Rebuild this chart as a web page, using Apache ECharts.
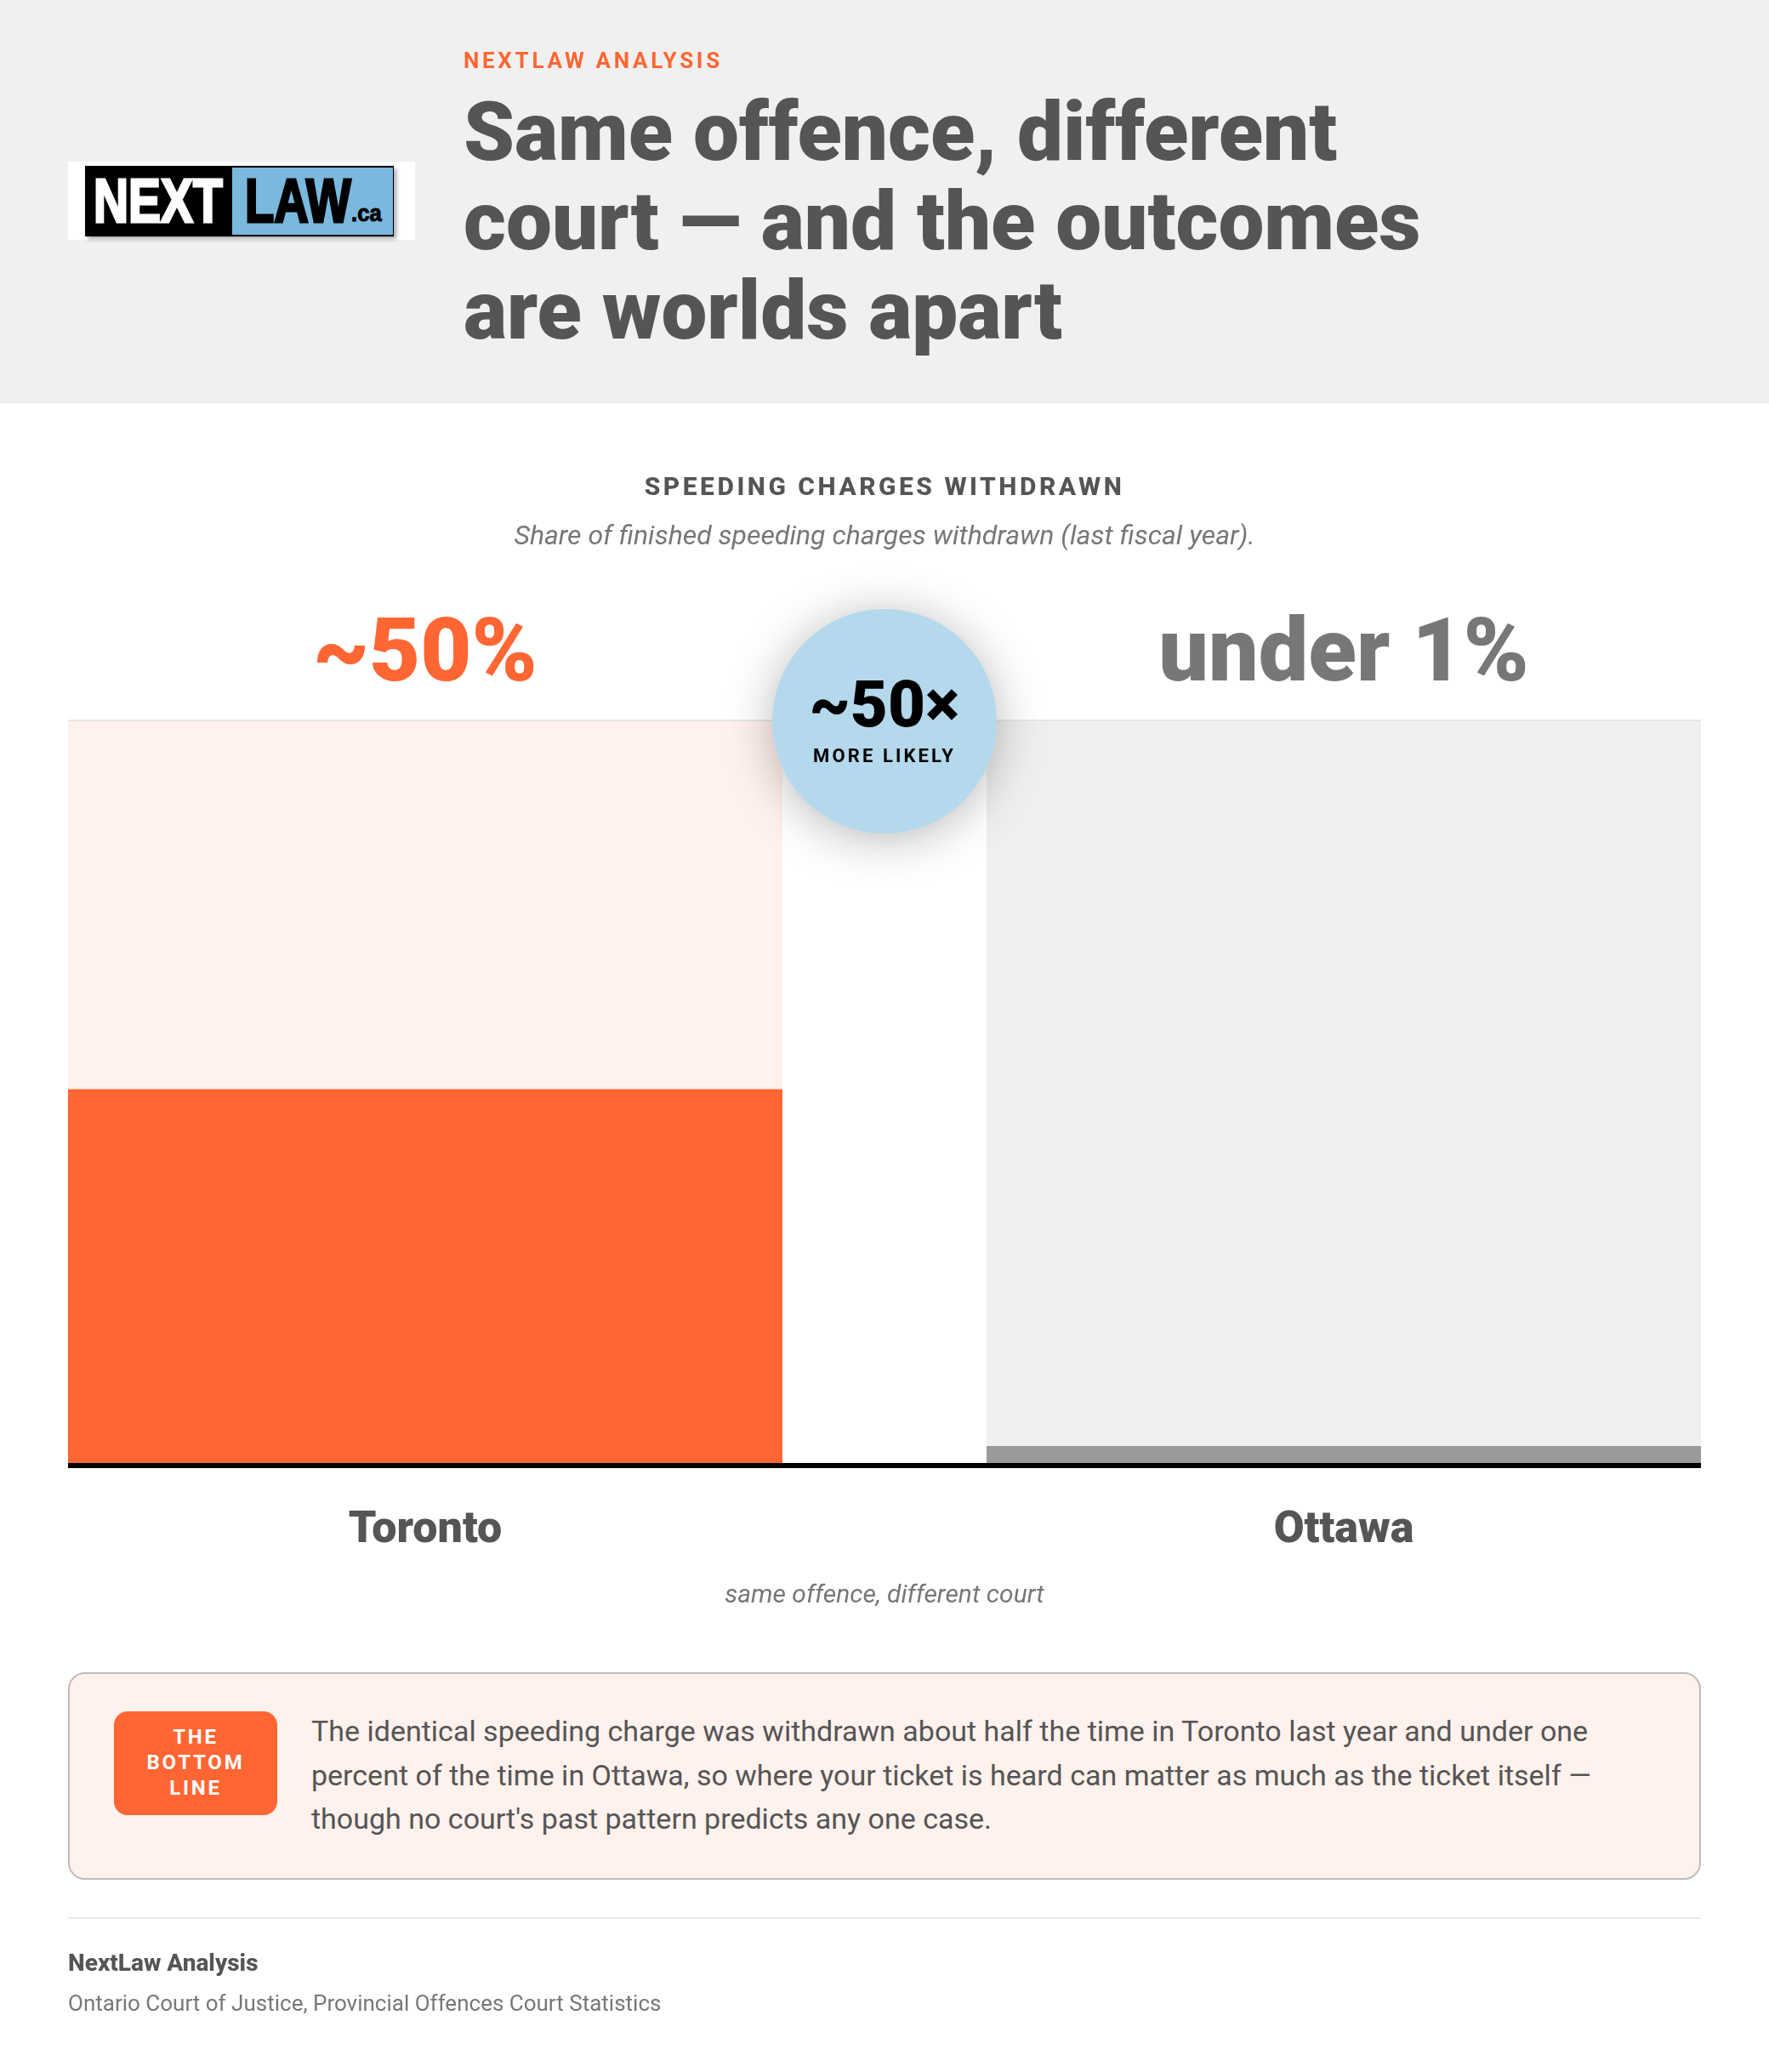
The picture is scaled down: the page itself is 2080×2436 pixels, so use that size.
<!DOCTYPE html>
<html><head><meta charset="utf-8">
<script src="https://cdn.jsdelivr.net/npm/echarts@6/dist/echarts.min.js"></script>
<style>
html,body{margin:0;padding:0;background:#fff}
body{width:2080px;height:2436px;position:relative;overflow:hidden;font-family:Roboto,sans-serif;color:#555}
.a{position:absolute;white-space:nowrap}
#chart{position:absolute;left:0;top:0;width:2080px;height:2436px}
.c{text-align:center;transform:translateX(-50%)}
</style></head><body>
<div class="a" style="left:0;top:0;width:2080px;height:473px;background:#f0f0f0;border-bottom:1px solid #e8e8e8"></div>
<div id="chart"></div>
<div class="a" style="left:80px;top:190px;width:408px;height:92px;background:#fff"></div>
<div class="a" style="left:100px;top:195px;width:363px;height:83px;background:#000;box-shadow:3px 3px 5px rgba(0,0,0,.35)"></div>
<div class="a" style="left:273px;top:197px;width:189px;height:79px;background:#7ab9dd"></div>
<div class="a" style="left:110px;top:196px;font:700 72px/80px 'Liberation Sans';-webkit-text-stroke:3px #fff;color:#fff;transform-origin:0 0;transform:scaleX(.79)">NEXT</div>
<div class="a" style="left:288px;top:196px;font:700 72px/80px 'Liberation Sans';-webkit-text-stroke:3px #000;color:#000;transform-origin:0 0;transform:scaleX(.78)">LAW</div>
<div class="a" style="left:413px;top:234px;font:700 27px/34px 'Liberation Sans';-webkit-text-stroke:1px #000;color:#000;transform-origin:0 0;transform:scaleX(.95)">.ca</div>
<div class="a" style="left:545px;top:55px;font:700 26px/32px Roboto;letter-spacing:3.7px;color:#ff6633">NEXTLAW ANALYSIS</div>
<div class="a" style="left:545px;top:103px;font:900 96px/105px Roboto;color:#555">Same offence, different<br>court — and the outcomes<br>are worlds apart</div>
<div class="a c" style="left:1040px;top:554px;font:800 30px/36px Roboto;letter-spacing:3.5px;color:#555">SPEEDING CHARGES WITHDRAWN</div>
<div class="a c" style="left:1040px;top:609px;font:italic 400 32px/40px Roboto;color:#777">Share of finished speeding charges withdrawn (last fiscal year).</div>
<div class="a" style="left:908px;top:716px;width:264px;height:264px;border-radius:50%;background:#b5d9ec;box-shadow:0 6px 56px rgba(0,0,0,.28)"></div>
<div class="a c" style="left:1040px;top:780px;font:900 76px/96px Roboto;color:#000">~50×</div>
<div class="a c" style="left:1040px;top:875px;font:700 22px/28px Roboto;letter-spacing:3.1px;color:#000">MORE LIKELY</div>
<div class="a c" style="left:1040px;top:1854px;font:italic 400 30px/40px Roboto;color:#777">same offence, different court</div>
<div class="a" style="left:80px;top:1966px;width:1916px;height:240px;background:#fff1ec;border:2px solid #bdbdbd;border-radius:20px"></div>
<div class="a" style="left:134px;top:2012px;width:192px;height:122px;background:#ff6633;border-radius:16px;color:#fff;font:700 24px/30px Roboto;letter-spacing:2.8px;text-align:center"><div style="margin-top:15px">THE<br>BOTTOM<br>LINE</div></div>
<div class="a" style="left:366px;top:2010px;font:400 34px/51.5px Roboto;color:#555">The identical speeding charge was withdrawn about half the time in Toronto last year and under one<br>percent of the time in Ottawa, so where your ticket is heard can matter as much as the ticket itself —<br>though no court's past pattern predicts any one case.</div>
<div class="a" style="left:80px;top:2254px;width:1920px;height:2px;background:#e8e8e8"></div>
<div class="a" style="left:80px;top:2291px;font:800 28px/34px Roboto;color:#555">NextLaw Analysis</div>
<div class="a" style="left:80px;top:2338px;font:400 26px/34px Roboto;color:#777">Ontario Court of Justice, Provincial Offences Court Statistics</div>
<script>
const categories = ['Toronto', 'Ottawa'];
const withdrawnShare = [50.3, 0.9];
const trackValues = [100, 100];
const valueLabels = ['~50%', 'under 1%'];
const barColors = ['#ff6633', '#9a9a9a'];
const trackColors = ['#fff1ec', '#efefef'];
const labelColors = ['#ff6633', '#777777'];

const panelLefts = [80, 1160];
const chart = echarts.init(document.getElementById('chart'), null, {renderer: 'canvas', width: 2080, height: 2436});
const series = [];
categories.forEach((name, i) => {
  series.push({
    name: name + ' track', type: 'bar', xAxisIndex: i, yAxisIndex: i, barWidth: '100%', barGap: '-100%', silent: true,
    data: [trackValues[i]], itemStyle: {color: trackColors[i]},
    label: {show: true, position: 'top', distance: 20, fontFamily: 'Roboto', fontWeight: 900, fontSize: 104,
      color: labelColors[i], formatter: () => valueLabels[i]}
  });
  series.push({
    name: name, type: 'bar', xAxisIndex: i, yAxisIndex: i, barWidth: '100%', barGap: '-100%', barMinHeight: 20, silent: true,
    data: [withdrawnShare[i]], itemStyle: {color: barColors[i]}
  });
});
chart.setOption({
  animation: false,
  grid: panelLefts.map(left => ({left, width: 840, top: 846, height: 874})),
  xAxis: categories.map((name, i) => ({
    gridIndex: i, type: 'category', data: [name],
    axisLine: {show: false}, axisTick: {show: false},
    axisLabel: {margin: 54, fontFamily: 'Roboto', fontWeight: 900, fontSize: 52, color: '#555555'}
  })),
  yAxis: categories.map((name, i) => ({gridIndex: i, type: 'value', min: 0, max: 100, show: false})),
  series,
  graphic: [
    {type: 'rect', shape: {x: 80, y: 1720, width: 1920, height: 6}, style: {fill: '#000'}, z: 10},
    {type: 'rect', shape: {x: 80, y: 846, width: 1920, height: 2}, style: {fill: '#e6e6e6'}, z: 10}
  ]
});
</script>
</body></html>
